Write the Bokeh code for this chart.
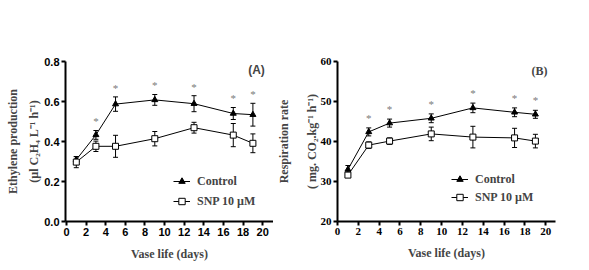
from bokeh.plotting import figure
from bokeh.layouts import row
from bokeh.models import (ColumnDataSource, Whisker, TeeHead, Label, Legend,
                          LegendItem, FixedTicker, Range1d)
from bokeh.embed import file_html
from bokeh.resources import INLINE

days = [1, 3, 5, 9, 13, 17, 19]

# Panel A: ethylene production
eth_control = [0.309, 0.433, 0.587, 0.608, 0.589, 0.540, 0.534]
eth_control_err = [0.015, 0.022, 0.036, 0.027, 0.040, 0.030, 0.057]
eth_snp = [0.297, 0.376, 0.376, 0.414, 0.469, 0.432, 0.391]
eth_snp_err = [0.028, 0.026, 0.055, 0.036, 0.027, 0.058, 0.047]

# Panel B: respiration rate
resp_control = [33.0, 42.4, 44.6, 45.8, 48.4, 47.3, 46.8]
resp_control_err = [1.0, 1.0, 1.0, 1.1, 1.2, 1.1, 1.0]
resp_snp = [31.6, 39.1, 40.1, 41.9, 41.1, 40.9, 40.1]
resp_snp_err = [0.5, 0.8, 0.8, 1.7, 2.7, 2.4, 1.7]

signif_days = [3, 5, 9, 13, 17, 19]

x_ticks = [0, 2, 4, 6, 8, 10, 12, 14, 16, 18, 20]
eth_ticks = [0.0, 0.2, 0.4, 0.6, 0.8]
eth_tick_labels = {0.0: "0.0", 0.2: "0.2", 0.4: "0.4", 0.6: "0.6", 0.8: "0.8"}
resp_ticks = [20, 30, 40, 50, 60]

SERIF = "Liberation Serif"
SANS = "Liberation Sans"


def make_panel(width, x_range, y_range, yticks, border_left, border_right,
               border_top, border_bottom, tick_font, ctrl, ctrl_err, snp, snp_err,
               star_offset, ylabel, ylab_standoff, ylab_lh, tag, tag_font,
               legend_loc, legend_spacing, sq_size):
    p = figure(width=width, height=270, output_backend="svg", toolbar_location=None,
               x_range=Range1d(*x_range), y_range=Range1d(*y_range),
               min_border_left=border_left, min_border_right=border_right,
               min_border_top=border_top, min_border_bottom=border_bottom)
    p.outline_line_color = None
    p.xgrid.visible = False
    p.ygrid.visible = False
    p.background_fill_color = "white"
    p.border_fill_color = "white"

    for ax in (p.xaxis[0], p.yaxis[0]):
        ax.axis_line_width = 2
        ax.axis_line_color = "black"
        ax.major_tick_line_width = 2
        ax.major_tick_line_color = "black"
        ax.major_tick_out = 4
        ax.major_tick_in = 0
        ax.minor_tick_line_color = None
        ax.major_label_text_font = tick_font
        ax.major_label_text_font_style = "bold"
        ax.major_label_text_font_size = "11px"
        ax.major_label_text_color = "black"
        ax.major_label_standoff = 2
    p.xaxis.ticker = FixedTicker(ticks=x_ticks)
    p.yaxis.ticker = FixedTicker(ticks=yticks)
    p.xaxis.axis_label = "Vase life (days)"
    p.xaxis.axis_label_text_font = SERIF
    p.xaxis.axis_label_text_font_style = "bold"
    p.xaxis.axis_label_text_font_size = "12px"
    p.xaxis.axis_label_standoff = 8

    p.yaxis.axis_label = ylabel
    p.yaxis.axis_label_text_font = SERIF
    p.yaxis.axis_label_text_font_style = "bold"
    p.yaxis.axis_label_text_font_size = "12px"
    p.yaxis.axis_label_standoff = ylab_standoff
    p.yaxis.axis_label_text_line_height = ylab_lh
    p.yaxis.axis_label_text_align = "center"

    upper_c = [v + e for v, e in zip(ctrl, ctrl_err)]
    lower_c = [v - e for v, e in zip(ctrl, ctrl_err)]
    upper_s = [v + e for v, e in zip(snp, snp_err)]
    lower_s = [v - e for v, e in zip(snp, snp_err)]
    src_c = ColumnDataSource(dict(x=days, y=ctrl, upper=upper_c, lower=lower_c))
    src_s = ColumnDataSource(dict(x=days, y=snp, upper=upper_s, lower=lower_s))

    for src in (src_c, src_s):
        w = Whisker(base="x", upper="upper", lower="lower", source=src,
                    line_color="black", line_width=1, level="underlay",
                    upper_head=TeeHead(size=5, line_color="black", line_width=1),
                    lower_head=TeeHead(size=5, line_color="black", line_width=1))
        p.add_layout(w)

    lc = p.line("x", "y", source=src_c, line_color="black", line_width=1)
    mc = p.scatter("x", "y", source=src_c, marker="triangle", size=6,
                   fill_color="black", line_color="black")
    ls = p.line("x", "y", source=src_s, line_color="black", line_width=1)
    ms = p.scatter("x", "y", source=src_s, marker="square", size=sq_size,
                   fill_color="white", line_color="black", line_width=1)

    star_y = [upper_c[days.index(d)] + star_offset for d in signif_days]
    p.text(x=signif_days, y=star_y, text=["*"] * len(signif_days),
           text_align="center", text_baseline="middle", text_font_size="11px",
           text_color="#7a7a7a", text_font=SANS)

    legend = Legend(items=[LegendItem(label="Control", renderers=[lc, mc]),
                           LegendItem(label="SNP 10 \u00b5M", renderers=[ls, ms])],
                    location=legend_loc, orientation="vertical",
                    border_line_color=None, background_fill_alpha=0,
                    label_text_font=SERIF, label_text_font_style="bold",
                    label_text_font_size="12px", glyph_width=17, glyph_height=16,
                    label_height=16, label_standoff=7, spacing=legend_spacing,
                    padding=0, margin=0)
    p.add_layout(legend)

    p.add_layout(Label(x=tag[1], y=tag[2], x_units="screen", y_units="screen",
                       text=tag[0], text_align="center", text_baseline="middle",
                       text_font=tag_font, text_font_style="bold",
                       text_font_size="12px"))
    return p


pA = make_panel(273, (-0.1, 21.1), (0, 0.8), eth_ticks, 65, 0, 57, 48, SANS,
                eth_control, eth_control_err, eth_snp, eth_snp_err, 0.046,
                "Ethylene production\n(\u00b5l C\u2082H\u2084 L\u207b\u00b9 h\u207b\u00b9)",
                0, 1.5, ("(A)", 191, 152), SANS, (108, 12), 4, 6)
pA.yaxis[0].major_label_overrides = eth_tick_labels

pB = make_panel(316, (0, 20.93), (20, 60), resp_ticks, 56, 34, 61, 49, SERIF,
                resp_control, resp_control_err, resp_snp, resp_snp_err, 2.6,
                "Respiration rate\n( mg. CO\u2082.kg\u207b\u00b9 h\u207b\u00b9)",
                -1, 2.0, ("(B)", 202, 151), SERIF, (114, 16), 2, 6)

layout = row(pA, pB, spacing=0)
open("out.html", "w").write(file_html(layout, INLINE))
